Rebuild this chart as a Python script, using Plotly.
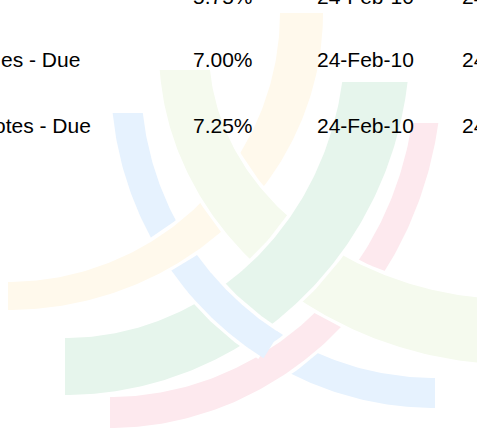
import numpy as np
import plotly.graph_objects as go

# table rows (only the visible part of the page)
labels = ["", "es - Due", "otes - Due"]
rates = ["5.75%", "7.00%", "7.25%"]
dates = ["24-Feb-10", "24-Feb-10", "24-Feb-10"]
col3 = ["24", "24", "24"]
row_baseline = [4, 66.7, 133]
label_right = [0, 80, 91]

W, H = 477, 430
FONT = "Liberation Sans, Arial, sans-serif"
FS = 21
GAP = 3.5  # white gap where one band passes over another

# watermark bands: centre, inner radii, outer radii, side, top cut (pixel coords)
bands = {
    "blue": dict(color="#E6F2FE", c=(435, 80), ri=(294, 298), ro=(324, 328), side=-1, ytop=113),
    "pink": dict(color="#FDE9EE", c=(110, 70), ri=(306, 327), ro=(332, 358), side=1, ytop=123),
    "yellow": dict(color="#FFF9EC", c=(8, 13), ri=(272, 269), ro=(315, 297), side=1, ytop=13),
    "lgreen": dict(color="#F5FAEE", c=(520, 50), ri=(311, 250), ro=(361, 315), side=-1, ytop=70),
    "mint": dict(color="#E6F5EC", c=(65, 40), ri=(280, 298), ro=(345, 355), side=1, ytop=82),
}
order = ["blue", "pink", "yellow", "lgreen", "mint"]


def t_range(bd, r):
    cy, b = bd["c"][1], r[1]
    return np.arcsin(np.clip((bd["ytop"] - cy) / b, -1, 1)), np.pi / 2


def edge(bd, r, t):
    cx, cy = bd["c"]
    return cx + bd["side"] * r[0] * np.cos(t), cy + r[1] * np.sin(t)


def inside(bd, x, y):
    cx, cy = bd["c"]
    ni = ((x - cx) / bd["ri"][0]) ** 2 + ((y - cy) / bd["ri"][1]) ** 2
    no = ((x - cx) / bd["ro"][0]) ** 2 + ((y - cy) / bd["ro"][1]) ** 2
    return (ni >= 1) & (no <= 1) & (bd["side"] * (x - cx) >= 0) & (y >= bd["ytop"])


fig = go.Figure()


def draw(bd, t_lo=None, t_hi=None, ext=0.0, n=120):
    ti0, ti1 = t_range(bd, bd["ri"])
    to0, to1 = t_range(bd, bd["ro"])
    if t_lo is not None:
        ti0 = to0 = t_lo
        ti1 = to1 = t_hi
    ti = np.linspace(ti0, ti1, n)
    to = np.linspace(to0, to1, n)
    # white halo along both long edges
    for r, t in ((bd["ri"], ti), (bd["ro"], to)):
        x, y = edge(bd, r, t)
        fig.add_trace(go.Scatter(x=x, y=y, mode="lines", line=dict(color="white", width=2 * GAP),
                                 hoverinfo="skip", showlegend=False))
    ti = np.linspace(ti0 - ext, ti1 + ext, n)
    to = np.linspace(to0 - ext, to1 + ext, n)
    xi, yi = edge(bd, bd["ri"], ti)
    xo, yo = edge(bd, bd["ro"], to)
    fig.add_trace(go.Scatter(
        x=np.concatenate([xi, xo[::-1]]), y=np.concatenate([yi, yo[::-1]]),
        fill="toself", fillcolor=bd["color"], mode="lines",
        line=dict(width=0), hoverinfo="skip", showlegend=False,
    ))


for name in order:
    draw(bands[name])

# blue passes over mint: redraw that stretch of blue on top
blue, mint = bands["blue"], bands["mint"]
t = np.linspace(0, np.pi / 2, 2000)
hit = np.zeros_like(t, dtype=bool)
for r in (blue["ri"], blue["ro"], tuple((np.array(blue["ri"]) + blue["ro"]) / 2)):
    x, y = edge(blue, r, t)
    hit |= inside(mint, x, y)
tt = t[hit]
draw(blue, tt.min() - 0.03, tt.max() + 0.03, ext=0.012)

for i, base in enumerate(row_baseline):
    ym = 1 - (base - 7.3) / H
    common = dict(xref="paper", yref="paper", y=ym, yanchor="middle", showarrow=False,
                  borderpad=0, borderwidth=0,
                  font=dict(family=FONT, size=FS, color="#000000"))
    if labels[i]:
        fig.add_annotation(x=label_right[i] / W, xanchor="right", text=labels[i], **common)
    fig.add_annotation(x=193 / W, xanchor="left", text=rates[i], **common)
    fig.add_annotation(x=317 / W, xanchor="left", text=dates[i], **common)
    fig.add_annotation(x=462 / W, xanchor="left", text=col3[i], **common)

fig.update_layout(
    width=W, height=H, margin=dict(l=0, r=0, t=0, b=0),
    paper_bgcolor="white", plot_bgcolor="white",
    xaxis=dict(range=[0, W], visible=False),
    yaxis=dict(range=[H, 0], visible=False),
)
fig.write_html("out.html", config={"displayModeBar": False},
               post_script="document.body.style.margin='0px';")
